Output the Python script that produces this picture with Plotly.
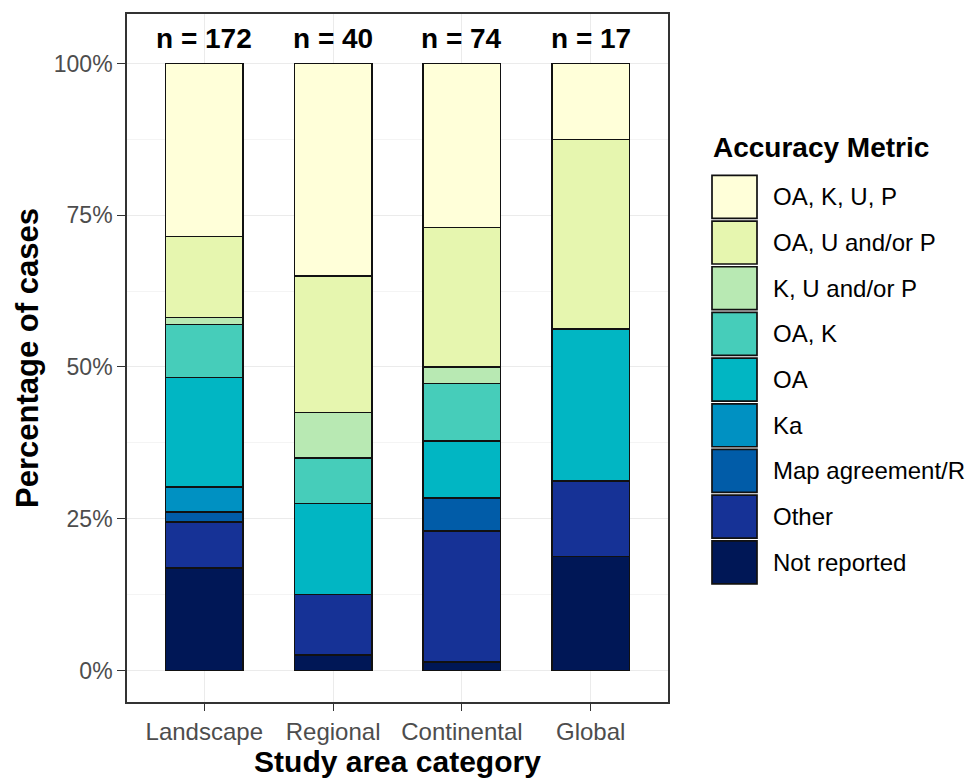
import plotly.graph_objects as go

# ---- data ----
categories = ["Landscape", "Regional", "Continental", "Global"]
n_labels = ["n = 172", "n = 40", "n = 74", "n = 17"]

# metric names, bottom of stack first
metrics = ["Not reported", "Other", "Map agreement/R", "Ka", "OA", "OA, K",
           "K, U and/or P", "OA, U and/or P", "OA, K, U, P"]
colors = ["#001756", "#163296", "#015CA8", "#0091C2", "#01B6C3", "#46CDBA",
          "#B8E9B3", "#E6F6AF", "#FFFFD9"]

# case counts per category, same order as metrics
landscape = [29, 13, 3, 7, 31, 15, 2, 23, 49]
regional = [1, 4, 0, 0, 6, 3, 3, 9, 14]
continental = [1, 16, 4, 0, 7, 7, 2, 17, 20]
global_ = [3, 2, 0, 0, 4, 0, 0, 5, 2]

counts = [landscape, regional, continental, global_]
pct = [[100.0 * v / sum(c) for v in c] for c in counts]

FONT = "Liberation Sans, Arial, sans-serif"

fig = go.Figure()
for i, m in enumerate(metrics):
    ys = [p[i] if p[i] > 0 else None for p in pct]
    fig.add_trace(go.Bar(
        x=categories, y=ys, name=m, width=0.6,
        marker=dict(color=colors[i], line=dict(color="#111111", width=1.7)),
        showlegend=False,
    ))

# n labels
for c, t in zip(categories, n_labels):
    fig.add_annotation(x=c, y=104.1, xref="x", yref="y", text="<b>%s</b>" % t,
                       showarrow=False, font=dict(family=FONT, size=28, color="black"))

# ---- plot area geometry (pixels) ----
W, H = 970, 782
L, R, T, B = 127, 668, 12, 707
def px(xp):
    return (xp - L) / (R - L)
def py(yp):
    return (B - yp) / (B - T)

# ---- custom ggplot-style legend ----
fig.add_annotation(x=px(711), y=py(147), xref="paper", yref="paper", text="<b>Accuracy Metric</b>",
                   showarrow=False, xanchor="left", yanchor="middle",
                   font=dict(family=FONT, size=28, color="black"))
key_top0, pitch, kh = 175, 46.15, 43.4
legend_order = list(range(len(metrics)))[::-1]
for j, i in enumerate(legend_order):
    top = key_top0 + pitch * j
    fig.add_shape(type="rect", xref="paper", yref="paper",
                  x0=px(712), x1=px(757), y0=py(top + kh), y1=py(top),
                  fillcolor=colors[i], line=dict(color="#111111", width=1.7))
    fig.add_annotation(x=px(771), y=py(top + kh / 2), xref="paper", yref="paper",
                       text=metrics[i], showarrow=False, xanchor="left", yanchor="middle",
                       font=dict(family=FONT, size=24, color="black"))

fig.update_layout(
    width=W, height=H, barmode="stack", bargap=0.4,
    margin=dict(l=L, r=W - R, t=T, b=H - B, pad=0),
    plot_bgcolor="white", paper_bgcolor="white",
    font=dict(family=FONT),
)
fig.update_xaxes(
    range=[-0.6, 3.6], showline=True, mirror=True, linecolor="#333333", linewidth=1.6,
    ticks="outside", ticklen=7, tickwidth=1.3, tickcolor="#333333",
    tickfont=dict(family=FONT, size=24, color="#4D4D4D"),
    showgrid=True, gridcolor="#EBEBEB", gridwidth=1.1, zeroline=False,
    title=dict(text="<b>Study area category</b>", font=dict(family=FONT, size=30, color="black"), standoff=4),
)
fig.update_yaxes(
    range=[-5.2, 108.16], tickvals=[0, 25, 50, 75, 100], ticktext=["0%", "25%", "50%", "75%", "100%"],
    showline=True, mirror=True, linecolor="#333333", linewidth=1.6,
    ticks="outside", ticklen=8, tickwidth=1.3, tickcolor="#333333",
    tickfont=dict(family=FONT, size=23, color="#4D4D4D"),
    showgrid=True, gridcolor="#EBEBEB", gridwidth=1.1, zeroline=False,
    minor=dict(tickvals=[12.5, 37.5, 62.5, 87.5], showgrid=True, gridcolor="#F4F4F4", gridwidth=0.6, ticks=""),
    title=dict(text="<b>Percentage of cases</b>", font=dict(family=FONT, size=31, color="black"), standoff=6),
)

fig.write_html("out.html")
